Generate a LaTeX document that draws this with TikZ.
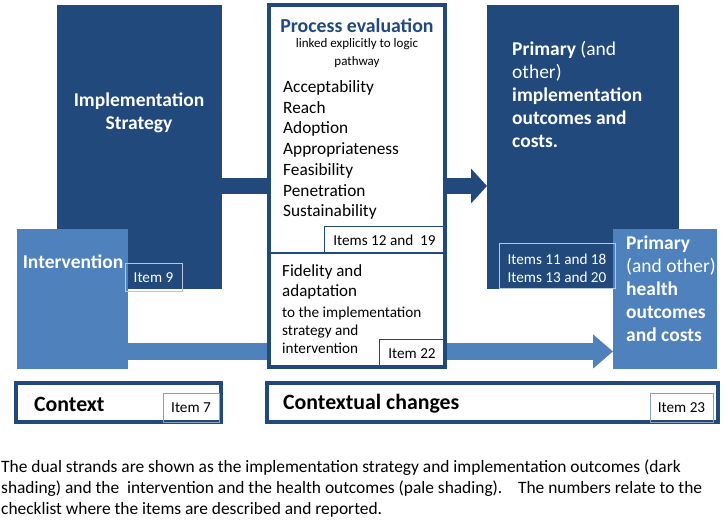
\documentclass[tikz,border=0pt]{standalone}
\usepackage{fontspec}
\setmainfont{Carlito}
\usetikzlibrary{arrows.meta}
\definecolor{dkblue}{HTML}{21497C}
\definecolor{ltblue}{HTML}{4F81BD}
\definecolor{itemline}{HTML}{B8C8DC}
\definecolor{itemgray}{HTML}{8DA0BA}
\begin{document}
\begin{tikzpicture}[x=1pt,y=-1pt,
  blk/.style={anchor=north west, inner sep=0pt, outer sep=0pt},
  itembox/.style={blk, draw=#1, line width=1pt},
  framebox/.style={blk, draw=dkblue, line width=4pt, fill=white},
  itemtxt/.style={font=\fontsize{15.2}{18}\selectfont, inner sep=0pt},
  whitetxt/.style={text=white, inner sep=0pt},
  arr/.style={line width=#1}
]
\useasboundingbox (0,0) rectangle (725,521);

% dark and light blocks
\node[blk, fill=dkblue, minimum width=165pt, minimum height=284pt] (impl) at (57,5) {};
\node[blk, fill=dkblue, minimum width=192pt, minimum height=284pt] (out) at (487,5) {};
\node[blk, fill=ltblue, minimum width=111pt, minimum height=140pt] (interv) at (17,229) {};
\node[blk, fill=ltblue, minimum width=104pt, minimum height=140pt] (health) at (613,229) {};

% arrows
\draw[dkblue, arr=16pt, -{Triangle[length=16pt,width=34pt]}] (impl.east |- 0,186) -- (out.west |- 0,186);
\draw[ltblue, arr=17pt, -{Triangle[length=20pt,width=33pt]}] (interv.east |- 0,351.5) -- (health.west |- 0,351.5);

% process evaluation frame
\node[framebox, minimum width=176pt, minimum height=362pt] (proc) at (269,5) {};
\coordinate (divL) at (269,253);
\coordinate (divR) at (445,253);
\draw[dkblue, line width=2.5pt] (divL) -- (divR);

% item boxes
\node[itembox=itemline, minimum width=57pt, minimum height=27pt] (item9) at (125,264) {};
\node[itembox=dkblue, minimum width=121pt, minimum height=26pt] (item1219) at (324,227) {};
\node[itembox=dkblue, minimum width=66pt, minimum height=28pt] (item22) at (379,339) {};
\node[itembox=itemline, minimum width=116pt, minimum height=44pt] (item1118) at (499,244) {};

% context frames
\node[framebox, minimum width=205pt, minimum height=39pt] (context) at (16,383) {};
\node[framebox, minimum width=451pt, minimum height=39pt] (contextual) at (267,383) {};
\node[itembox=itemgray, minimum width=56pt, minimum height=29pt] (item7) at (163,393) {};
\node[itembox=itemgray, minimum width=63pt, minimum height=29pt] (item23) at (650,393) {};

% texts
\node[whitetxt, font=\fontsize{19.5}{23.5}\selectfont\bfseries, align=center] (implT) at (139,113) {Implementation\\Strategy};
\node[whitetxt, font=\fontsize{19.5}{23}\selectfont\bfseries] (intervT) at (73,262) {Intervention};
\node[whitetxt, itemtxt] (item9T) at (153.5,277.5) {Item 9};

\node[text=dkblue, inner sep=0pt, font=\fontsize{19.8}{24}\selectfont\bfseries] (procT) at (357,26) {Process evaluation};
\node[inner sep=0pt, align=center, font=\fontsize{13}{18}\selectfont] (procS) at (357,53) {linked explicitly to logic\\pathway};
\node[inner sep=0pt, align=left, anchor=west, font=\fontsize{17.3}{20.7}\selectfont] (procL) at (283,150) {Acceptability\\Reach\\Adoption\\Appropriateness\\Feasibility\\Penetration\\Sustainability};
\node[itemtxt] (item1219T) at (384.5,240) {Items 12 and\ \ 19};

\node[inner sep=0pt, align=left, anchor=west, font=\fontsize{17}{20}\selectfont] (fid1) at (282,282) {Fidelity and\\adaptation};
\node[inner sep=0pt, align=left, anchor=west, font=\fontsize{15.2}{18}\selectfont] (fid2) at (282,330) {to the implementation\\strategy and\\intervention};
\node[itemtxt] (item22T) at (412,354) {Item 22};

\node[whitetxt, align=left, anchor=west, font=\fontsize{19.5}{23}\selectfont] (outT) at (512,94) {\textbf{Primary} (and\\other)\\\textbf{implementation}\\\textbf{outcomes and}\\\textbf{costs.}};
\node[whitetxt, itemtxt, align=center] (item1118T) at (557,268) {Items 11 and 18\\Items 13 and 20};

\node[whitetxt, align=left, anchor=west, font=\fontsize{19.5}{23}\selectfont] (healthT) at (626,289) {\textbf{Primary}\\(and other)\\\textbf{health}\\\textbf{outcomes}\\\textbf{and costs}};

\node[inner sep=0pt, anchor=west, font=\fontsize{21.8}{24}\selectfont\bfseries] (contextT) at (34,404) {Context};
\node[itemtxt] (item7T) at (191,408) {Item 7};
\node[inner sep=0pt, anchor=west, font=\fontsize{21.8}{24}\selectfont\bfseries] (contextualT) at (283,404) {Contextual changes};
\node[itemtxt] (item23T) at (681.5,408) {Item 23};

\node[inner sep=0pt, anchor=west, align=left, font=\fontsize{17.4}{21}\selectfont] (caption) at (1,489) {The dual strands are shown as the implementation strategy and implementation outcomes (dark\\shading) and the\ \ intervention and the health outcomes (pale shading).\ \ \ \ The numbers relate to the\\checklist where the items are described and reported.};
\end{tikzpicture}
\end{document}
